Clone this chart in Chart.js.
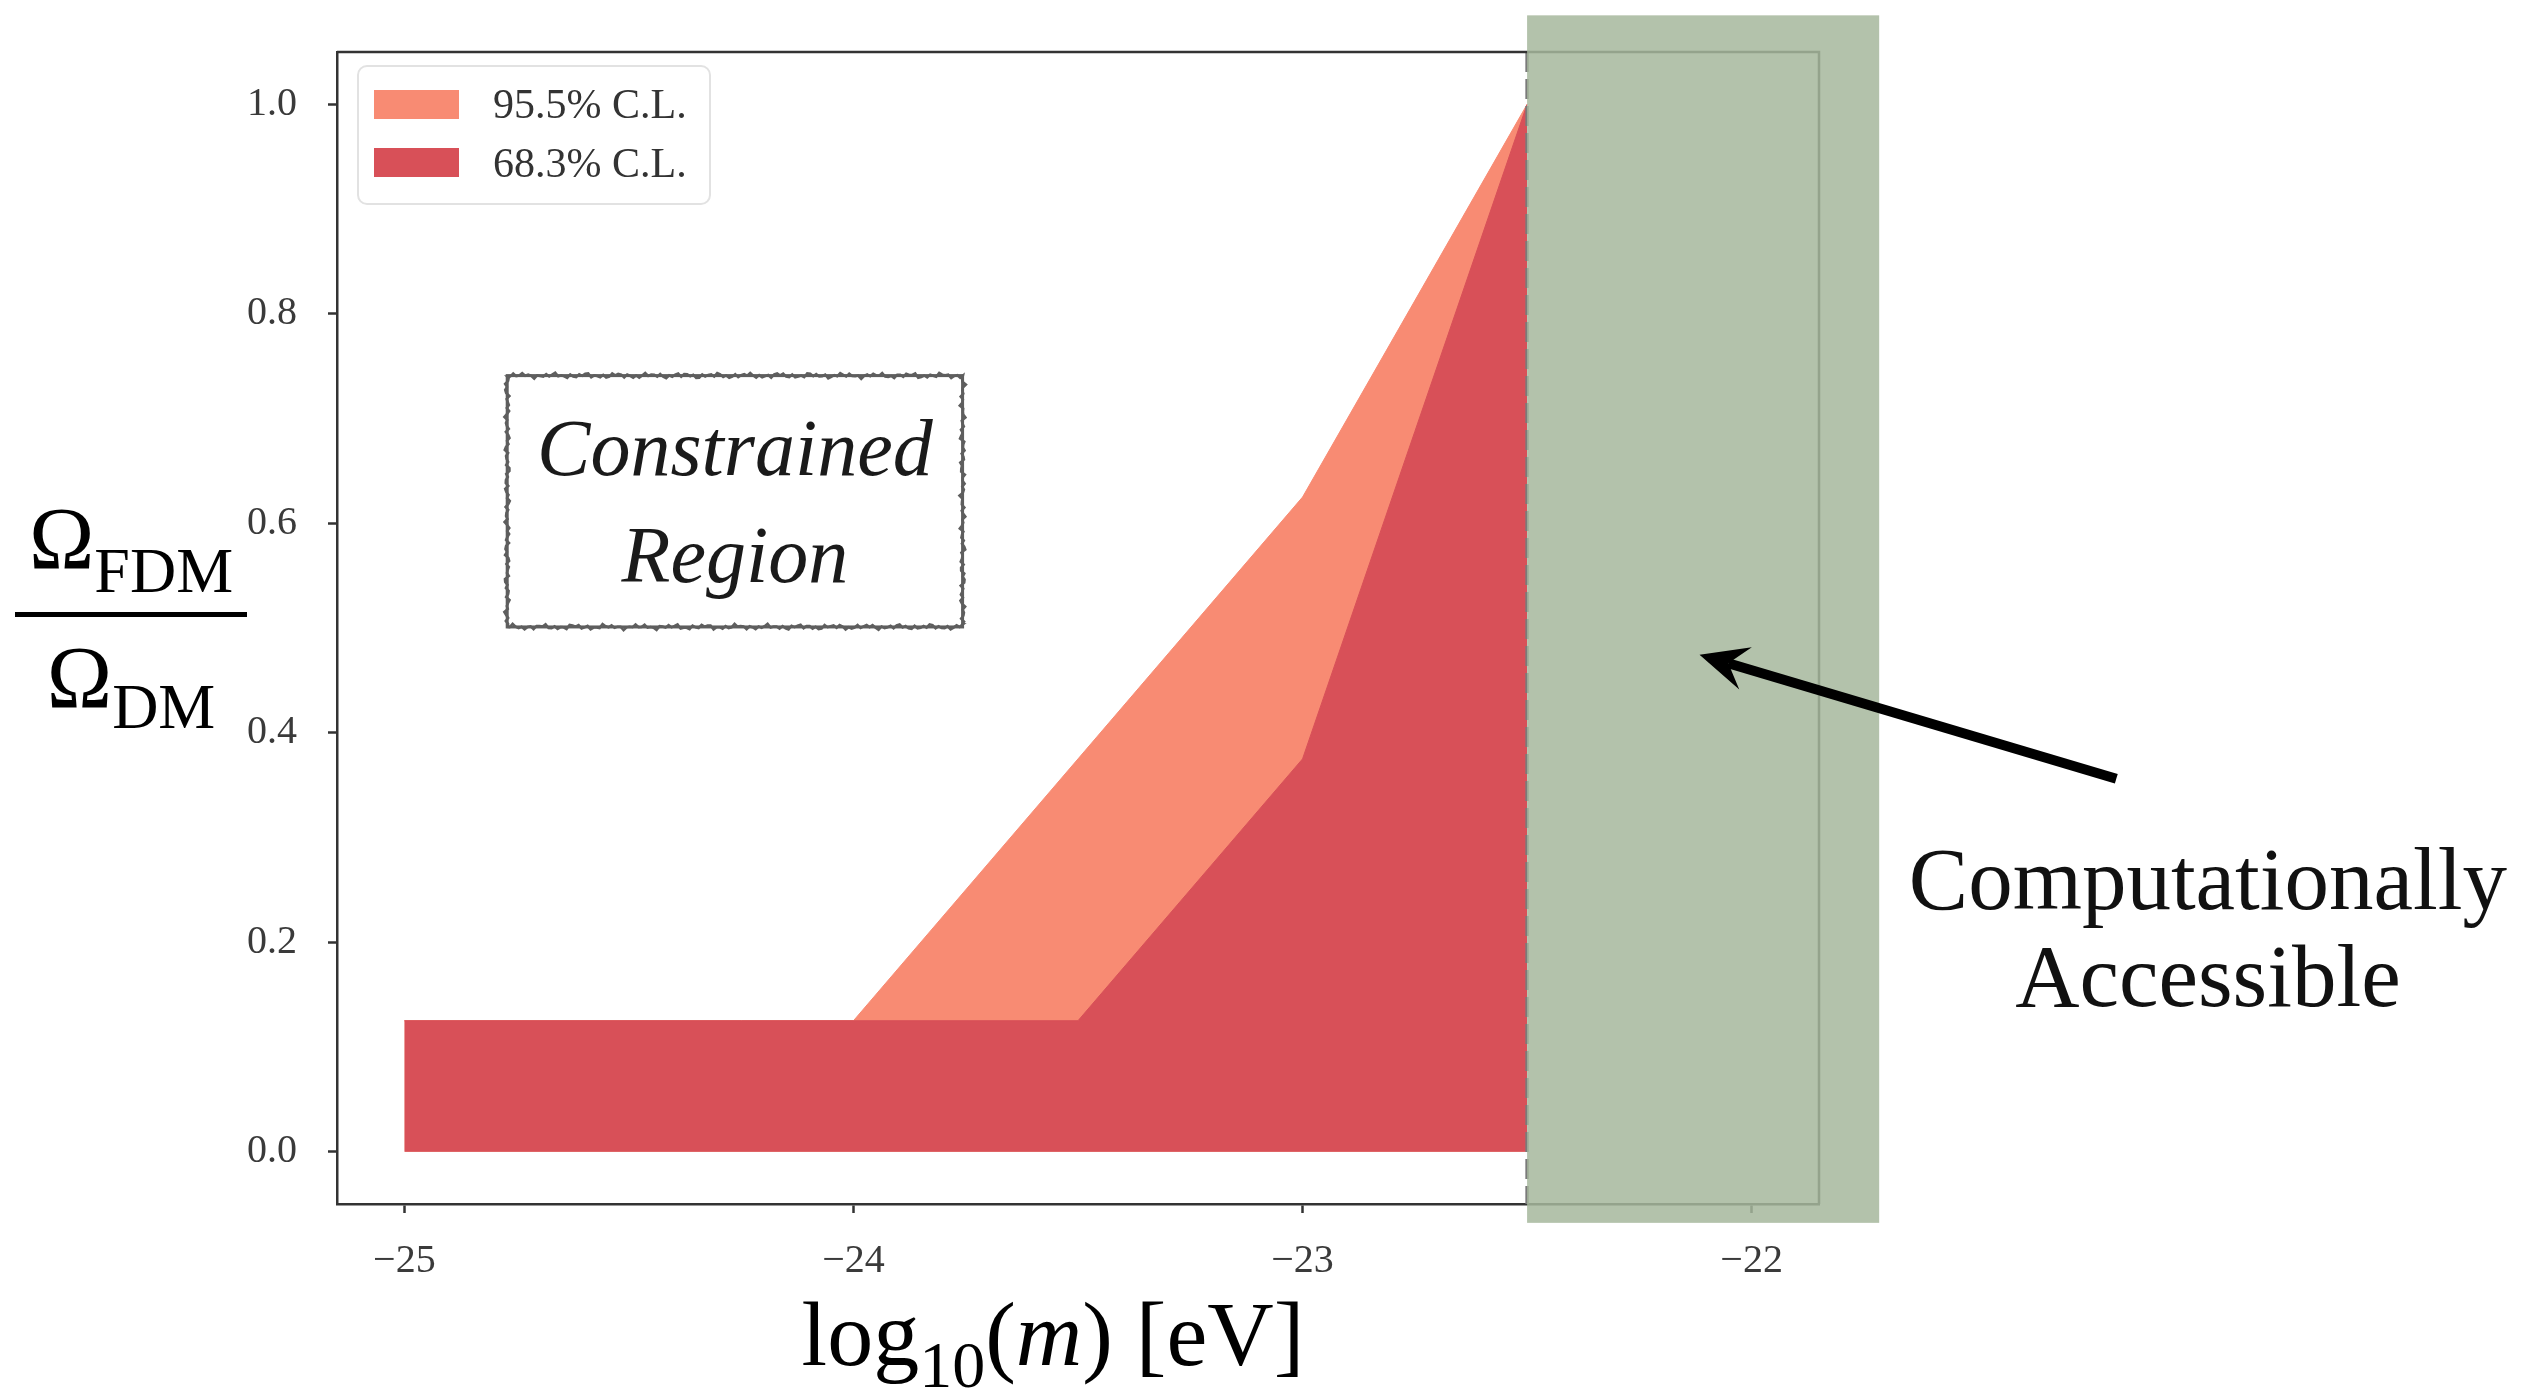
<!DOCTYPE html>
<html lang="en">
<head>
  <meta charset="utf-8">
  <title>FDM fraction constraints</title>
  <script src="https://cdn.jsdelivr.net/npm/chart.js"></script>
  <style>
    html, body { margin: 0; padding: 0; background: #fff; }
  </style>
</head>
<body>
  <canvas id="fdmChart" width="2528" height="1391"></canvas>
<script>
  // log10(m / eV) and the bounded fraction Omega_FDM / Omega_DM
  const massCL95 = [-25, -24, -23, -22.5];
  const fracCL95 = [0.125, 0.125, 0.625, 1.0];
  const massCL68 = [-25, -23.5, -23, -22.5];
  const fracCL68 = [0.125, 0.125, 0.375, 1.0];

  const seriesLabels = ['95.5% C.L.', '68.3% C.L.'];
  const seriesColors = ['#f88b73', '#d85058'];

  const xTickValues = [-25, -24, -23, -22];
  const yTickValues = [0, 0.2, 0.4, 0.6, 0.8, 1.0];

  // mass above which simulations are feasible
  const accessibleFrom = -22.5;
  const accessibleTo = -21.716;
  const accessibleYRange = [-0.068, 1.085];

  // annotation anchors, in axis units
  const constrainedBox = { x0: -24.771, x1: -23.757, y0: 0.501, y1: 0.741 };
  const constrainedLines = [{ text: 'Constrained', y: 0.646 }, { text: 'Region', y: 0.544 }];
  const accessibleLines = [{ text: 'Computationally', y: 0.2315 }, { text: 'Accessible', y: 0.139 }];
  const accessibleTextX = -20.984;
  const arrowFrom = { x: -21.188, y: 0.356 };
  const arrowTo = { x: -22.116, y: 0.4745 };

  const serif = '"Liberation Serif", "Times New Roman", serif';

  function toPoints(xs, ys) {
    return xs.map((x, i) => ({ x: x, y: ys[i] }));
  }

  function minusLabel(v) {
    return v < 0 ? '\u2212' + Math.abs(v) : String(v);
  }

  // wobbly pencil-like rectangle outline
  function roughRect(ctx, x0, y0, x1, y1) {
    const pts = [];
    const step = 3;
    const sides = [
      [x0, y0, x1, y0], [x1, y0, x1, y1], [x1, y1, x0, y1], [x0, y1, x0, y0]
    ];
    let k = 0;
    sides.forEach(s => {
      const len = Math.hypot(s[2] - s[0], s[3] - s[1]);
      const nx = -(s[3] - s[1]) / len, ny = (s[2] - s[0]) / len;
      for (let d = 0; d < len; d += step) {
        const t = d / len;
        const off = 1.6 * Math.sin(k * 2.3) + 1.1 * Math.sin(k * 5.7 + 1) + 0.7 * Math.sin(k * 11.3);
        pts.push([s[0] + (s[2] - s[0]) * t + nx * off, s[1] + (s[3] - s[1]) * t + ny * off]);
        k++;
      }
    });
    ctx.beginPath();
    pts.forEach((p, i) => i ? ctx.lineTo(p[0], p[1]) : ctx.moveTo(p[0], p[1]));
    ctx.closePath();
    ctx.stroke();
  }

  // keep tick labels from pushing the plot area around
  function noLabelPadding(s) {
    s.paddingTop = 0;
    s.paddingBottom = 0;
    s.paddingLeft = 0;
    s.paddingRight = 0;
  }

  const overlay = {
    id: 'overlay',
    afterDatasetsDraw(chart) {
      const { ctx, chartArea: a, scales: { x } } = chart;
      const xp = x.getPixelForValue(accessibleFrom);
      ctx.save();
      ctx.strokeStyle = '#7a7a7a';
      ctx.lineWidth = 3.5;
      ctx.setLineDash([20, 7]);
      ctx.beginPath();
      ctx.moveTo(xp, a.top);
      ctx.lineTo(xp, a.bottom);
      ctx.stroke();
      ctx.restore();
    },
    afterDraw(chart) {
      const { ctx, chartArea: a, scales: { x, y } } = chart;
      ctx.save();

      // top and right spines
      ctx.strokeStyle = '#333';
      ctx.lineWidth = 2.5;
      ctx.beginPath();
      ctx.moveTo(a.left, a.top);
      ctx.lineTo(a.right, a.top);
      ctx.lineTo(a.right, a.bottom);
      ctx.stroke();

      // legend
      const lx = a.left + 21, ly = a.top + 14;
      ctx.beginPath();
      ctx.roundRect(lx, ly, 352, 138, 9);
      ctx.fillStyle = 'rgba(255,255,255,0.85)';
      ctx.fill();
      ctx.strokeStyle = '#e2e2e2';
      ctx.lineWidth = 2;
      ctx.stroke();
      ctx.font = '42px ' + serif;
      ctx.textAlign = 'left';
      ctx.textBaseline = 'alphabetic';
      chart.data.datasets.forEach((ds, i) => {
        ctx.fillStyle = ds.backgroundColor;
        ctx.fillRect(a.left + 37, a.top + 38 + i * 58, 85, 29);
        ctx.fillStyle = '#333';
        ctx.fillText(ds.label, a.left + 156, a.top + 66 + i * 59);
      });

      // "Constrained Region" box
      const bx0 = x.getPixelForValue(constrainedBox.x0), bx1 = x.getPixelForValue(constrainedBox.x1);
      const by0 = y.getPixelForValue(constrainedBox.y1), by1 = y.getPixelForValue(constrainedBox.y0);
      ctx.strokeStyle = '#5e5e5e';
      ctx.lineWidth = 3;
      ctx.strokeRect(bx0, by0, bx1 - bx0, by1 - by0);
      ctx.lineWidth = 2.5;
      roughRect(ctx, bx0, by0, bx1, by1);
      ctx.fillStyle = '#1a1a1a';
      ctx.font = 'italic 80px ' + serif;
      ctx.textAlign = 'center';
      const bcx = (bx0 + bx1) / 2;
      constrainedLines.forEach(l => ctx.fillText(l.text, bcx, y.getPixelForValue(l.y)));

      // accessible band
      const gx0 = x.getPixelForValue(accessibleFrom), gx1 = x.getPixelForValue(accessibleTo);
      const gy0 = y.getPixelForValue(accessibleYRange[1]), gy1 = y.getPixelForValue(accessibleYRange[0]);
      ctx.fillStyle = 'rgba(166,183,156,0.85)';
      ctx.fillRect(gx0, gy0, gx1 - gx0, gy1 - gy0);

      // arrow pointing into the band
      const tx = x.getPixelForValue(arrowFrom.x), ty = y.getPixelForValue(arrowFrom.y);
      const hx = x.getPixelForValue(arrowTo.x), hy = y.getPixelForValue(arrowTo.y);
      const ang = Math.atan2(hy - ty, hx - tx);
      const ux = Math.cos(ang), uy = Math.sin(ang);
      const headLen = 48, headHalf = 22, notch = 30;
      ctx.strokeStyle = '#000';
      ctx.fillStyle = '#000';
      ctx.lineWidth = 10;
      ctx.beginPath();
      ctx.moveTo(tx, ty);
      ctx.lineTo(hx - ux * notch, hy - uy * notch);
      ctx.stroke();
      ctx.beginPath();
      ctx.moveTo(hx, hy);
      ctx.lineTo(hx - ux * headLen - uy * headHalf, hy - uy * headLen + ux * headHalf);
      ctx.lineTo(hx - ux * notch, hy - uy * notch);
      ctx.lineTo(hx - ux * headLen + uy * headHalf, hy - uy * headLen - ux * headHalf);
      ctx.closePath();
      ctx.fill();

      ctx.font = '89px ' + serif;
      ctx.fillStyle = '#111';
      const acx = x.getPixelForValue(accessibleTextX);
      accessibleLines.forEach(l => ctx.fillText(l.text, acx, y.getPixelForValue(l.y)));

      // y axis title: Omega_FDM / Omega_DM
      const fracCx = 131, barY = 612;
      const bigFont = '88px ' + serif, subFont = '64px ' + serif;
      ctx.textAlign = 'left';
      ctx.fillStyle = '#000';
      function omegaWithSub(sub, baseY, subDrop) {
        ctx.font = bigFont;
        const w1 = ctx.measureText('\u03A9').width;
        ctx.font = subFont;
        const w2 = ctx.measureText(sub).width;
        const left = fracCx - (w1 + w2) / 2;
        ctx.font = bigFont;
        ctx.fillText('\u03A9', left, baseY);
        ctx.font = subFont;
        ctx.fillText(sub, left + w1, baseY + subDrop);
      }
      omegaWithSub('FDM', 568, 24);
      ctx.fillRect(15, barY, 232, 5);
      omegaWithSub('DM', 707, 21);

      // x axis title: log10(m) [eV]
      const parts = [
        { t: 'log', f: '92px ' + serif, dy: 0 },
        { t: '10', f: '66px ' + serif, dy: 22 },
        { t: '(', f: '92px ' + serif, dy: 0 },
        { t: 'm', f: 'italic 92px ' + serif, dy: 0 },
        { t: ') [eV]', f: '92px ' + serif, dy: 0 }
      ];
      let total = 0;
      parts.forEach(p => { ctx.font = p.f; p.w = ctx.measureText(p.t).width; total += p.w; });
      let cx = 1053 - total / 2;
      parts.forEach(p => {
        ctx.font = p.f;
        ctx.fillText(p.t, cx, 1365 + p.dy);
        cx += p.w;
      });

      ctx.restore();
    }
  };

  const data = {
    datasets: [
      {
        label: seriesLabels[0],
        data: toPoints(massCL95, fracCL95),
        backgroundColor: seriesColors[0],
        borderColor: seriesColors[0],
        borderWidth: 1,
        pointRadius: 0,
        tension: 0,
        fill: 'origin',
        order: 2
      },
      {
        label: seriesLabels[1],
        data: toPoints(massCL68, fracCL68),
        backgroundColor: seriesColors[1],
        borderColor: seriesColors[1],
        borderWidth: 1,
        pointRadius: 0,
        tension: 0,
        fill: 'origin',
        order: 1
      }
    ]
  };

  const tickFont = { family: serif, size: 40 };

  const config = {
    type: 'line',
    data: data,
    options: {
      responsive: false,
      animation: false,
      devicePixelRatio: 1,
      layout: { padding: { top: 52, right: 709, left: 0, bottom: 0 } },
      plugins: { legend: { display: false }, tooltip: { enabled: false } },
      scales: {
        x: {
          type: 'linear',
          min: -25.15,
          max: -21.85,
          afterBuildTicks: s => { s.ticks = xTickValues.map(v => ({ value: v })); },
          afterFit: s => { s.height = 187; noLabelPadding(s); },
          grid: { drawOnChartArea: false, drawTicks: true, tickLength: 9, tickWidth: 2.5, tickColor: '#333' },
          border: { display: true, color: '#333', width: 2.5 },
          ticks: { font: tickFont, color: '#3a3a3a', padding: 24, maxRotation: 0, autoSkip: false, callback: v => minusLabel(v) }
        },
        y: {
          min: -0.05,
          max: 1.05,
          afterBuildTicks: s => { s.ticks = yTickValues.map(v => ({ value: v })); },
          afterFit: s => { s.width = 337; noLabelPadding(s); },
          grid: { drawOnChartArea: false, drawTicks: true, tickLength: 9, tickWidth: 2.5, tickColor: '#333' },
          border: { display: true, color: '#333', width: 2.5 },
          ticks: { font: tickFont, color: '#3a3a3a', padding: 31, autoSkip: false, callback: v => v.toFixed(1) }
        }
      }
    },
    plugins: [overlay]
  };

  const fdmChart = new Chart(document.getElementById('fdmChart'), config);
</script>
</body>
</html>
